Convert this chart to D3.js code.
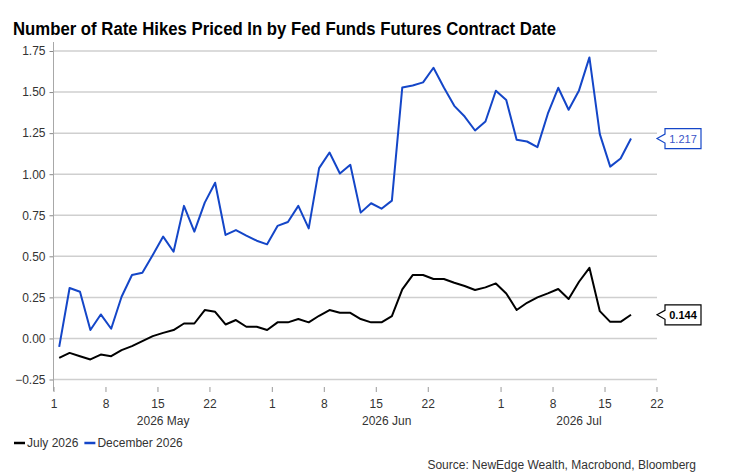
<!DOCTYPE html>
<html>
<head>
<meta charset="utf-8">
<script src="https://cdn.jsdelivr.net/npm/d3@7"></script>
<style>
  body { margin: 0; background: #fff; }
  svg { display: block; font-family: "Liberation Sans Narrow", "Arial Narrow", "Liberation Sans", Arial, sans-serif; }
  .grid line { stroke: #cfcfcf; stroke-width: 1.5; }
  .tick-label { fill: #333; font-size: 12px; }
</style>
</head>
<body>
<svg width="744" height="475"></svg>
<script>
// business days, one point each, from 2026-05-01 to 2026-07-17
const firstDay = new Date(2026, 4, 1);
const lastDay = new Date(2026, 6, 17);

const july2026 = [
  -0.118, -0.088, -0.108, -0.128, -0.098, -0.108, -0.071, -0.047, -0.016, 0.014,
  0.034, 0.051, 0.091, 0.091, 0.173, 0.162, 0.085, 0.112, 0.071, 0.071,
  0.051, 0.098, 0.098, 0.118, 0.098, 0.138, 0.173, 0.156, 0.156, 0.118,
  0.098, 0.098, 0.136, 0.299, 0.386, 0.386, 0.362, 0.362, 0.339, 0.319,
  0.295, 0.311, 0.335, 0.274, 0.173, 0.217, 0.25, 0.274, 0.301, 0.24,
  0.345, 0.43, 0.166, 0.101, 0.101, 0.144
];

const dec2026 = [
  -0.051, 0.307, 0.284, 0.051, 0.146, 0.059, 0.254, 0.386, 0.40, 0.508,
  0.62, 0.528, 0.807, 0.65, 0.827, 0.948, 0.63, 0.66, 0.626, 0.595,
  0.573, 0.685, 0.709, 0.807, 0.67, 1.037, 1.132, 1.004, 1.057, 0.766,
  0.823, 0.79, 0.839, 1.528, 1.54, 1.559, 1.648, 1.528, 1.416, 1.351,
  1.266, 1.321, 1.508, 1.451, 1.209, 1.199, 1.165, 1.368, 1.526, 1.392,
  1.51, 1.711, 1.244, 1.046, 1.095, 1.217
];

const yTicks = [-0.25, 0, 0.25, 0.5, 0.75, 1, 1.25, 1.5, 1.75];
const xTickDates = [
  [2026, 4, 1], [2026, 4, 8], [2026, 4, 15], [2026, 4, 22],
  [2026, 5, 1], [2026, 5, 8], [2026, 5, 15], [2026, 5, 22],
  [2026, 6, 1], [2026, 6, 8], [2026, 6, 15], [2026, 6, 22]
];
const monthLabels = ['2026 May', '2026 Jun', '2026 Jul'];

const series = [
  { name: 'July 2026', values: july2026, color: '#000000', last: '0.144', bold: true },
  { name: 'December 2026', values: dec2026, color: '#1446c8', last: '1.217', bold: false }
];

const isWeekday = d => d.getDay() !== 0 && d.getDay() !== 6;
const bizIndex = d => d3.timeDay.range(firstDay, d).filter(isWeekday).length;

const svg = d3.select('svg');
const plotLeft = 54, plotRight = 657, plotTop = 51, plotBottom = 379.5;

const axisEnd = new Date(2026, 6, 22);
const x = d3.scaleLinear()
  .domain([0, bizIndex(axisEnd)])
  .range([plotLeft, plotRight]);

const y = d3.scaleLinear()
  .domain([-0.25, 1.75])
  .range([plotBottom, plotTop]);

// title (narrow bold in the original, so squeeze it a bit)
svg.append('text')
  .attr('x', 13)
  .attr('y', 35)
  .attr('font-size', 18)
  .attr('font-weight', 'bold')
  .attr('fill', '#000')
  .attr('textLength', 543)
  .attr('lengthAdjust', 'spacingAndGlyphs')
  .text('Number of Rate Hikes Priced In by Fed Funds Futures Contract Date');

// gridlines
svg.append('g')
  .attr('class', 'grid')
  .selectAll('line')
  .data(yTicks)
  .enter()
  .append('line')
  .attr('x1', plotLeft)
  .attr('x2', plotRight)
  .attr('y1', d => y(d))
  .attr('y2', d => y(d));

// y axis
const yAxis = svg.append('g')
  .attr('transform', `translate(${plotLeft - 0.5},0)`)
  .call(d3.axisLeft(y).tickValues(yTicks).tickSize(4).tickPadding(4).tickFormat(d3.format('.2f')));
yAxis.select('.domain').remove();
yAxis.selectAll('.tick line').attr('stroke', '#888');
yAxis.selectAll('text').attr('class', 'tick-label');
yAxis.attr('font-size', null).attr('font-family', null);

svg.append('line')
  .attr('x1', plotLeft - 0.5).attr('x2', plotLeft - 0.5)
  .attr('y1', 42).attr('y2', 391)
  .attr('stroke', '#a8a8a8');

// x axis ticks
const xTicks = xTickDates.map(t => new Date(t[0], t[1], t[2]));
const xg = svg.append('g');
xg.selectAll('line')
  .data(xTicks)
  .enter()
  .append('line')
  .attr('x1', d => x(bizIndex(d)))
  .attr('x2', d => x(bizIndex(d)))
  .attr('y1', 387)
  .attr('y2', 392)
  .attr('stroke', '#999');
xg.selectAll('text.day')
  .data(xTicks)
  .enter()
  .append('text')
  .attr('class', 'tick-label day')
  .attr('x', d => x(bizIndex(d)))
  .attr('y', 408)
  .attr('text-anchor', 'middle')
  .text(d => d.getDate());

// month labels centered on the visible part of each month
const monthStarts = [new Date(2026, 4, 1), new Date(2026, 5, 1), new Date(2026, 6, 1), new Date(2026, 7, 1)];
xg.selectAll('text.month')
  .data(monthLabels)
  .enter()
  .append('text')
  .attr('class', 'tick-label month')
  .attr('x', (d, i) => {
    const a = x(bizIndex(monthStarts[i]));
    const b = Math.min(plotRight, x(bizIndex(monthStarts[i + 1])));
    return (a + b) / 2;
  })
  .attr('y', 425)
  .attr('text-anchor', 'middle')
  .text(d => d);

// lines
const line = d3.line()
  .x((d, i) => x(i + 0.5))
  .y(d => y(d));

svg.append('g')
  .selectAll('path')
  .data(series.slice().reverse())
  .enter()
  .append('path')
  .attr('d', d => line(d.values))
  .attr('fill', 'none')
  .attr('stroke', d => d.color)
  .attr('stroke-width', 2)
  .attr('stroke-linejoin', 'round');

// end value callouts
const callouts = svg.append('g')
  .selectAll('g')
  .data(series)
  .enter()
  .append('g')
  .attr('transform', d => `translate(657,${y(d.values[d.values.length - 1])})`);

callouts.append('path')
  .attr('d', 'M0,0 L8,-4.5 L8,-10 L44,-10 L44,10 L8,10 L8,4.5 Z')
  .attr('fill', '#fff')
  .attr('stroke', d => d.color)
  .attr('stroke-width', 1.2);

callouts.append('text')
  .attr('x', 26)
  .attr('y', 4)
  .attr('text-anchor', 'middle')
  .attr('font-size', 11)
  .attr('font-weight', d => d.bold ? 'bold' : 'normal')
  .attr('fill', d => d.bold ? '#000' : '#3a55c8')
  .text(d => d.last);

// legend
const legend = svg.append('g')
  .attr('transform', 'translate(14,443)');
let lx = 0;
series.forEach(s => {
  legend.append('line')
    .attr('x1', lx).attr('x2', lx + 11)
    .attr('y1', 0).attr('y2', 0)
    .attr('stroke', s.color)
    .attr('stroke-width', 2.5);
  const t = legend.append('text')
    .attr('x', lx + 13)
    .attr('y', 4)
    .attr('font-size', 12)
    .attr('fill', '#333')
    .text(s.name);
  lx += 13 + t.node().getComputedTextLength() + 6;
});

// source
svg.append('text')
  .attr('x', 696)
  .attr('y', 469)
  .attr('text-anchor', 'end')
  .attr('font-size', 12)
  .attr('fill', '#333')
  .text('Source: NewEdge Wealth, Macrobond, Bloomberg');
</script>
</body>
</html>
